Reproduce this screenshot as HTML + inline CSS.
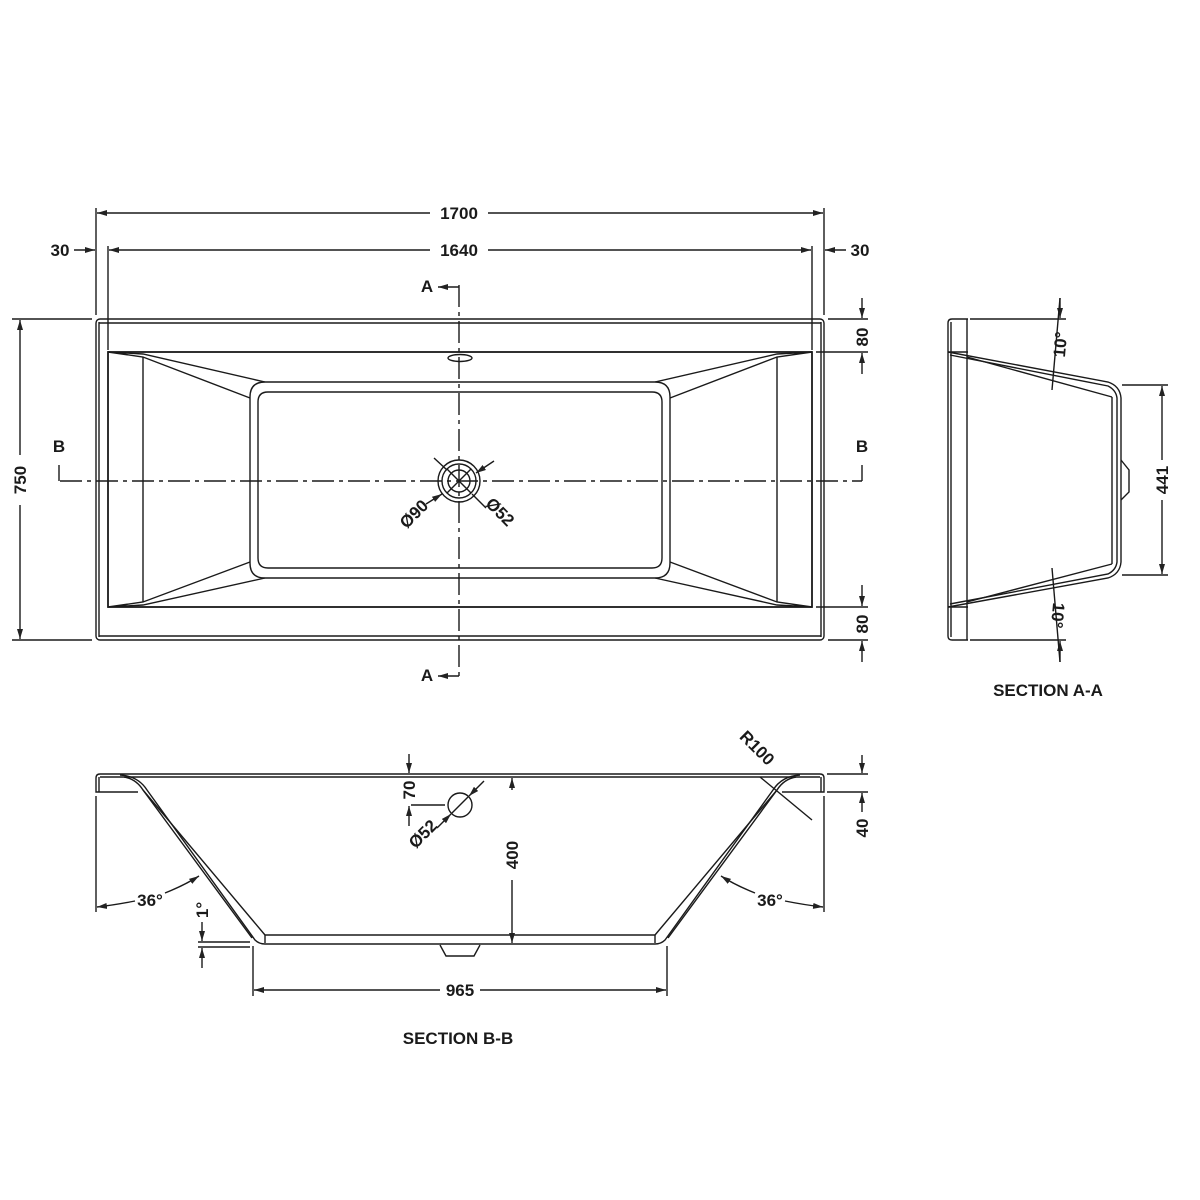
<!DOCTYPE html>
<html><head><meta charset="utf-8"><style>
html,body{margin:0;padding:0;background:#fff;}
svg{display:block}
text{font-family:"Liberation Sans","DejaVu Sans",sans-serif;font-weight:bold;font-size:17px;fill:#1a1a1a}
</style></head><body>
<svg width="1200" height="1200" viewBox="0 0 1200 1200" xmlns="http://www.w3.org/2000/svg">
<defs>
<marker id="ar" viewBox="0 0 10 6" refX="10" refY="3" markerWidth="10" markerHeight="6" orient="auto-start-reverse" markerUnits="userSpaceOnUse"><path d="M0,0 L10,3 L0,6 z" fill="#222"/></marker>
</defs>
<g stroke="#1a1a1a" stroke-width="1.4" fill="none">
<!-- PLAN VIEW -->
<rect x="96" y="319" width="728" height="321" rx="4"/>
<line x1="99" y1="323" x2="821" y2="323"/>
<line x1="99" y1="636" x2="821" y2="636"/>
<line x1="99" y1="322" x2="99" y2="637"/>
<line x1="821" y1="322" x2="821" y2="637"/>
<rect x="108" y="352" width="704" height="255" stroke-width="1.8"/>
<line x1="143" y1="357" x2="143" y2="602"/>
<line x1="777" y1="357" x2="777" y2="602"/>
<path d="M108,352 L143,357 L250,398 M108,352 L143,354 L265,382 M108,607 L143,602 L250,562 M108,607 L143,605 L265,578"/>
<path d="M812,352 L777,357 L670,398 M812,352 L777,354 L655,382 M812,607 L777,602 L670,562 M812,607 L777,605 L655,578"/>
<path d="M265,382 L655,382 Q670,382 670,397 L670,563 Q670,578 655,578 L265,578 Q250,578 250,563 L250,397 Q250,382 265,382 z"/>
<path d="M268,392 L652,392 Q662,392 662,402 L662,558 Q662,568 652,568 L268,568 Q258,568 258,558 L258,402 Q258,392 268,392 z"/>
<ellipse cx="460" cy="358" rx="12" ry="3.5"/>
<circle cx="459" cy="481" r="21"/>
<circle cx="459" cy="481" r="17"/>
<circle cx="459" cy="481" r="11"/>
<line x1="447" y1="469" x2="471" y2="493"/><line x1="447" y1="493" x2="471" y2="469"/>
<line x1="434" y1="458" x2="447" y2="470"/>
<line x1="494" y1="461" x2="476" y2="473" marker-end="url(#ar)"/>
<line x1="426" y1="504" x2="442" y2="494" marker-end="url(#ar)"/>
<line x1="472" y1="494" x2="486" y2="508"/>
<line x1="459" y1="285" x2="459" y2="680" stroke-dasharray="22,5,4,5"/>
<line x1="60" y1="481" x2="862" y2="481" stroke-dasharray="22,5,4,5"/>
<path d="M59,465 L59,481 M862,465 L862,481"/>
<path d="M459,287 L438,287" marker-end="url(#ar)"/>
<path d="M459,676 L438,676" marker-end="url(#ar)"/>
<!-- plan dims -->
<line x1="96" y1="208" x2="96" y2="315"/>
<line x1="824" y1="208" x2="824" y2="315"/>
<line x1="108" y1="246" x2="108" y2="350"/>
<line x1="812" y1="246" x2="812" y2="350"/>
<line x1="430" y1="213" x2="97" y2="213" marker-end="url(#ar)"/>
<line x1="488" y1="213" x2="823" y2="213" marker-end="url(#ar)"/>
<line x1="430" y1="250" x2="109" y2="250" marker-end="url(#ar)"/>
<line x1="488" y1="250" x2="811" y2="250" marker-end="url(#ar)"/>
<line x1="74" y1="250" x2="95" y2="250" marker-end="url(#ar)"/>
<line x1="846" y1="250" x2="825" y2="250" marker-end="url(#ar)"/>
<line x1="12" y1="319" x2="92" y2="319"/>
<line x1="12" y1="640" x2="92" y2="640"/>
<line x1="20" y1="455" x2="20" y2="320" marker-end="url(#ar)"/>
<line x1="20" y1="505" x2="20" y2="639" marker-end="url(#ar)"/>
<line x1="828" y1="319" x2="868" y2="319"/>
<line x1="816" y1="352" x2="868" y2="352"/>
<line x1="816" y1="607" x2="868" y2="607"/>
<line x1="828" y1="640" x2="868" y2="640"/>
<line x1="862" y1="298" x2="862" y2="318" marker-end="url(#ar)"/>
<line x1="862" y1="374" x2="862" y2="353" marker-end="url(#ar)"/>
<line x1="862" y1="585" x2="862" y2="606" marker-end="url(#ar)"/>
<line x1="862" y1="662" x2="862" y2="641" marker-end="url(#ar)"/>

<!-- SECTION A-A -->
<path d="M968,319 L952,319 Q948,319 948,323 L948,636 Q948,640 952,640 L968,640"/>
<line x1="951" y1="322" x2="951" y2="637"/>
<line x1="967" y1="319" x2="967" y2="640"/>
<line x1="948" y1="352" x2="968" y2="352"/>
<line x1="948" y1="607" x2="968" y2="607"/>
<path d="M948,352 L1108,382 Q1120,386 1121,398 L1121,562 Q1120,574 1108,578 L948,607"/>
<path d="M950,355 L1108,386 Q1116,390 1117,398 L1117,562 Q1116,570 1108,574 L950,604"/>
<path d="M967,357 L1112,397 M967,602 L1112,564"/>
<line x1="1112" y1="397" x2="1112" y2="564"/>
<path d="M1121,460 L1129,470 L1129,492 L1121,500"/>
<line x1="970" y1="319" x2="1066" y2="319"/>
<line x1="970" y1="640" x2="1066" y2="640"/>
<line x1="1060" y1="298" x2="1060" y2="318" marker-end="url(#ar)"/>
<line x1="1060" y1="662" x2="1060" y2="641" marker-end="url(#ar)"/>
<line x1="1060" y1="298" x2="1052" y2="390"/>
<line x1="1060" y1="662" x2="1052" y2="568"/>
<line x1="1122" y1="385" x2="1168" y2="385"/>
<line x1="1122" y1="575" x2="1168" y2="575"/>
<line x1="1162" y1="460" x2="1162" y2="386" marker-end="url(#ar)"/>
<line x1="1162" y1="500" x2="1162" y2="574" marker-end="url(#ar)"/>

<!-- SECTION B-B -->
<line x1="100" y1="774" x2="820" y2="774"/>
<line x1="100" y1="777" x2="820" y2="777"/>
<path d="M100,774 Q96,774 96,778 L96,792 L138,792"/>
<line x1="99" y1="777" x2="99" y2="792"/>
<path d="M820,774 Q824,774 824,778 L824,792 L782,792"/>
<line x1="821" y1="777" x2="821" y2="792"/>
<path d="M120,775 Q138,776 147,790 L255,940 Q259,944 265,944 L655,944 Q661,944 665,940 L773,790 Q782,776 800,775"/>
<path d="M124,777 Q136,779 143,790 L252,938 M796,777 Q784,779 777,790 L668,938"/>
<path d="M143,790 L265,935 L655,935 L777,790"/>
<line x1="265" y1="935" x2="265" y2="943"/>
<line x1="655" y1="935" x2="655" y2="943"/>
<path d="M440,945 L446,956 L474,956 L480,945"/>
<circle cx="460" cy="805" r="12"/>
<line x1="452" y1="813" x2="468" y2="797"/>
<line x1="411" y1="805" x2="445" y2="805"/>
<line x1="409" y1="754" x2="409" y2="773" marker-end="url(#ar)"/>
<line x1="409" y1="826" x2="409" y2="806" marker-end="url(#ar)"/>
<line x1="484" y1="781" x2="469" y2="796" marker-end="url(#ar)"/>
<line x1="437" y1="828" x2="451" y2="814" marker-end="url(#ar)"/>
<line x1="512" y1="790" x2="512" y2="778" marker-end="url(#ar)"/>
<line x1="512" y1="880" x2="512" y2="943" marker-end="url(#ar)"/>
<line x1="96" y1="796" x2="96" y2="912"/>
<line x1="824" y1="796" x2="824" y2="912"/>
<path d="M135,901 Q115,905 97,907" marker-end="url(#ar)"/>
<path d="M165,893 Q185,885 199,876" marker-end="url(#ar)"/>
<path d="M785,901 Q805,905 823,907" marker-end="url(#ar)"/>
<path d="M755,893 Q735,885 721,876" marker-end="url(#ar)"/>
<line x1="760" y1="777" x2="812" y2="820"/>
<line x1="827" y1="774" x2="868" y2="774"/>
<line x1="827" y1="792" x2="868" y2="792"/>
<line x1="862" y1="755" x2="862" y2="773" marker-end="url(#ar)"/>
<line x1="862" y1="812" x2="862" y2="793" marker-end="url(#ar)"/>
<line x1="198" y1="942" x2="250" y2="942"/>
<line x1="198" y1="947" x2="250" y2="947"/>
<line x1="202" y1="922" x2="202" y2="941" marker-end="url(#ar)"/>
<line x1="202" y1="968" x2="202" y2="948" marker-end="url(#ar)"/>
<line x1="253" y1="946" x2="253" y2="996"/>
<line x1="667" y1="946" x2="667" y2="996"/>
<line x1="440" y1="990" x2="254" y2="990" marker-end="url(#ar)"/>
<line x1="480" y1="990" x2="666" y2="990" marker-end="url(#ar)"/>
</g>
<g>
<text x="459" y="219" text-anchor="middle">1700</text>
<text x="459" y="256" text-anchor="middle">1640</text>
<text x="60" y="256" text-anchor="middle">30</text>
<text x="860" y="256" text-anchor="middle">30</text>
<text x="427" y="292" text-anchor="middle">A</text>
<text x="427" y="681" text-anchor="middle">A</text>
<text x="59" y="452" text-anchor="middle">B</text>
<text x="862" y="452" text-anchor="middle">B</text>
<text transform="translate(26,480) rotate(-90)" text-anchor="middle">750</text>
<text transform="translate(868,337) rotate(-90)" text-anchor="middle">80</text>
<text transform="translate(868,624) rotate(-90)" text-anchor="middle">80</text>
<text transform="translate(418,518) rotate(-45)" text-anchor="middle">Ø90</text>
<text transform="translate(496,516) rotate(45)" text-anchor="middle">Ø52</text>
<text transform="translate(1066,345) rotate(-85)" text-anchor="middle">10°</text>
<text transform="translate(1052,615) rotate(95)" text-anchor="middle">10°</text>
<text transform="translate(1168,480) rotate(-90)" text-anchor="middle">441</text>
<text x="1048" y="696" text-anchor="middle">SECTION A-A</text>
<text transform="translate(415,790) rotate(-90)" text-anchor="middle">70</text>
<text transform="translate(427,838) rotate(-45)" text-anchor="middle">Ø52</text>
<text transform="translate(518,855) rotate(-90)" text-anchor="middle">400</text>
<text transform="translate(753,752) rotate(45)" text-anchor="middle">R100</text>
<text transform="translate(868,828) rotate(-90)" text-anchor="middle">40</text>
<text x="150" y="906" text-anchor="middle">36°</text>
<text x="770" y="906" text-anchor="middle">36°</text>
<text transform="translate(208,910) rotate(-90)" text-anchor="middle">1°</text>
<text x="460" y="996" text-anchor="middle">965</text>
<text x="458" y="1044" text-anchor="middle">SECTION B-B</text>
</g>
</svg>
</body></html>
